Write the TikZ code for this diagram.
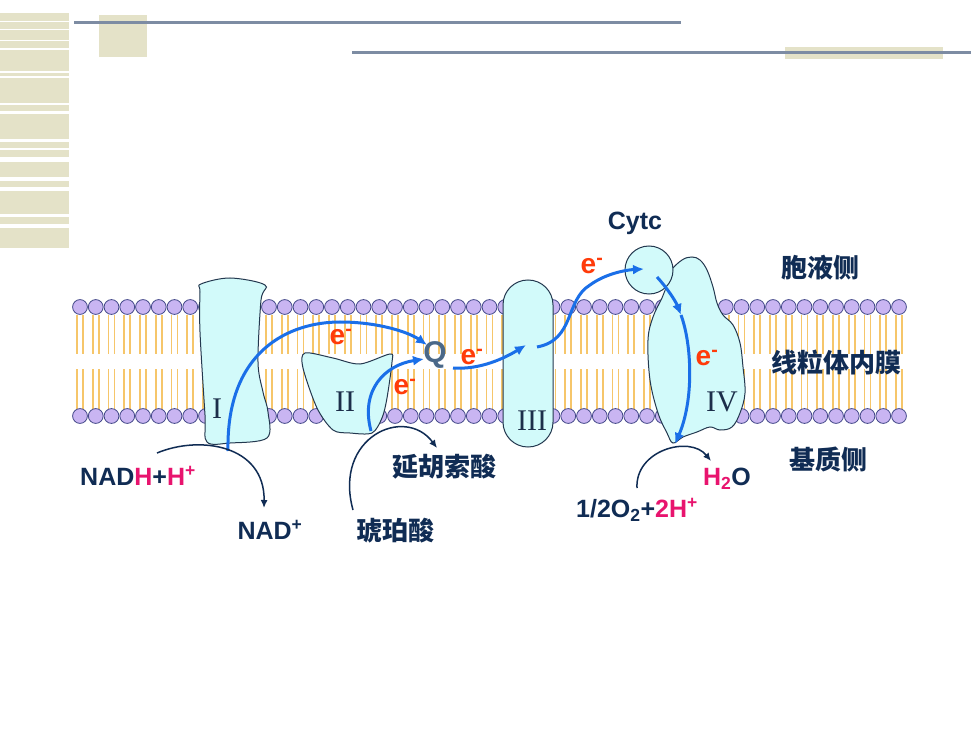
\documentclass[tikz,border=0pt]{standalone}
\usepackage{fontspec}
\setmainfont{Liberation Sans}
\newfontfamily\cjk{Noto Sans CJK SC}
\newfontfamily\romanfont{Liberation Serif}
\usetikzlibrary{arrows.meta}
\definecolor{navy}{HTML}{102C54}
\definecolor{pinkH}{HTML}{E8146E}
\definecolor{eorange}{HTML}{FF3B0A}
\definecolor{eblue}{HTML}{1A6FE8}
\definecolor{qcol}{HTML}{4A6888}
\definecolor{headfill}{HTML}{C9B5F2}
\definecolor{headdraw}{HTML}{454A8A}
\definecolor{tailcol}{HTML}{F6C66A}
\definecolor{protfill}{HTML}{D2FAFA}
\definecolor{protdraw}{HTML}{23384F}
\definecolor{beige}{HTML}{E4E2C8}
\definecolor{rulecol}{HTML}{7D8CA3}
\definecolor{numcol}{HTML}{1C2E4A}
\newcommand{\elec}{e\textsuperscript{-}}

\begin{document}
\begin{tikzpicture}[x=1pt,y=-1pt,
  tail/.style={draw=tailcol,line width=1.6pt},
  head/.style={draw=headdraw,fill=headfill,line width=0.8pt},
  prot/.style={draw=protdraw,fill=protfill,line width=1pt},
  eflow/.style={draw=eblue,line width=3pt,-{Latex[length=11pt,width=10pt]}},
  react/.style={draw=navy,line width=1.5pt,-{Latex[length=8pt,width=7pt]}},
  lbl/.style={font=\fontsize{25}{30}\selectfont\bfseries,text=navy,inner sep=0pt},
  zh/.style={font=\fontsize{26}{30}\selectfont\cjk\bfseries,text=navy,inner sep=0pt},
  elbl/.style={font=\fontsize{28}{30}\selectfont\bfseries,text=eorange,inner sep=0pt},
  num/.style={font=\fontsize{30}{32}\selectfont\romanfont,text=numcol,inner sep=0pt}]
                 \fill[white] (0,0) rectangle (980,735);
                 \useasboundingbox (0,0) rectangle (980,735);

                 % Slide decoration
                 \fill[beige] (0,13) rectangle (69,248);
                 \foreach \y/\w in {20.7/1.5,28.7/1.5,40/1.2,47.7/2.5,70.7/2,76/2,102.7/2.5,110.7/3,139.3/2.5,148.3/1.8,157.3/4.5,177.3/3.5,187.3/3.5,214/3.5,224/4}
                   \fill[white] (0,\y) rectangle (69,\y+\w);
                 \fill[beige] (99,15) rectangle (147,57);
                 \fill[beige] (785,47) rectangle (943,59);
                 \draw[rulecol,line width=3pt] (74,23) -- (681,23);
                 \draw[rulecol,line width=3pt] (352,53) -- (971,53);

                 % Lipid bilayer
                 \foreach \i in {0,...,52}{
                   \pgfmathsetmacro{\hx}{80+15.75*\i}
                   \draw[tail] (\hx-3,315) -- (\hx-3,354) (\hx+3,315) -- (\hx+3,354);
                   \draw[tail] (\hx-3,369) -- (\hx-3,409) (\hx+3,369) -- (\hx+3,409);
                   \draw[head] (\hx,307) circle (7.4pt) (\hx,416) circle (7.4pt);
                 }

                 % Complexes
                 \draw[prot] plot[smooth cycle,tension=0.55] coordinates {(201,284) (230,278) (265,285) (261,300) (258,362) (263,392) (268,412) (267,438) (230,443) (207,442) (205,415) (200,332) (200,292)};
                 \draw[prot] plot[smooth cycle,tension=0.5] coordinates {(305,353) (333,358) (360,364) (390,354) (392,362) (387,398) (382,418) (372,433) (350,433) (333,430) (317,408) (303,368)};
                 \draw[prot,rounded corners=24.9pt] (503,280) rectangle (553,447);
                 \draw[prot] plot[smooth cycle,tension=0.6] coordinates {(670,272) (682,260) (692,257) (700,260) (707,270) (713,287) (717,303) (723,315) (733,325) (740,343) (743,367) (745,393) (740,413) (732,427) (720,430) (710,427) (697,432) (683,437) (673,443) (667,433) (658,413) (650,380) (648,340) (653,317) (662,298) (666,288)};
                 \draw[prot] (649,270) circle (24pt);

                 \node[num] (cI) at (217,409) {I};
                 \node[num] (cII) at (345,402) {II};
                 \node[num] (cIII) at (532,421) {III};
                 \node[num] (cIV) at (722,402) {IV};

                 % Electron path
                 \node[font=\fontsize{30}{32}\selectfont\bfseries,text=qcol,inner sep=0pt] (Q) at (435,355) {Q};
                 \coordinate (Iout) at (228,451);
                 \coordinate (IIout) at (371,431);
                 \coordinate (Qin) at (427,345);
                 \coordinate (Qin2) at (424,359);
                 \coordinate (Qout) at (453,368);
                 \coordinate (IIIin) at (526,345);
                 \coordinate (IIIout) at (537,347);
                 \coordinate (cytcin) at (644,269);
                 \coordinate (cytcout) at (657,277);
                 \coordinate (IVmid) at (681,315);
                 \coordinate (IVout) at (675,444);

                 \draw[eflow] (Iout) .. controls (226,350) and (290,322) .. (340,322) .. controls (380,322) and (410,333) .. (Qin);
                 \draw[eflow] (IIout) .. controls (360,390) and (385,365) .. (Qin2);
                 \draw[eflow] (Qout) .. controls (480,370) and (505,358) .. (IIIin);
                 \draw[eflow] (IIIout) .. controls (575,340) and (565,300) .. (590,285) .. controls (605,274) and (625,270) .. (cytcin);
                 \draw[eflow] (cytcout) .. controls (668,289) and (676,302) .. (IVmid);
                 \draw[eflow] (IVmid) .. controls (692,345) and (694,400) .. (IVout);

                 \node[elbl] (e1) at (341,337) {\elec};
                 \node[elbl] (e2) at (405,387) {\elec};
                 \node[elbl] (e3) at (472,357) {\elec};
                 \node[elbl] (e4) at (592,266) {\elec};
                 \node[elbl] (e5) at (707,358) {\elec};

                 % Substrates and products
                 \node[lbl] (nadh) at (138,476) {NAD\textcolor{pinkH}{H}+\textcolor{pinkH}{H\textsuperscript{+}}};
                 \node[lbl] (nad) at (270,530) {NAD\textsuperscript{+}};
                 \node[zh] (fum) at (444,467) {延胡索酸};
                 \node[zh] (succ) at (395,531) {琥珀酸};
                 \node[lbl] (cytc) at (635,223) {Cytc};
                 \node[lbl] (water) at (727,479) {\textcolor{pinkH}{H\textsubscript{2}}O};
                 \node[lbl] (oxy) at (637,510) {1/2O\textsubscript{2}+\textcolor{pinkH}{2H\textsuperscript{+}}};

                 \coordinate (nadhin) at (157,453);
                 \coordinate (nadout) at (264,508);
                 \coordinate (succin) at (353,510);
                 \coordinate (fumout) at (437,448);
                 \coordinate (oxyin) at (637,488);
                 \coordinate (waterout) at (711,461);
                 \draw[react] (nadhin) .. controls (200,435) and (265,445) .. (nadout);
                 \draw[react] (succin) .. controls (333,437) and (405,405) .. (fumout);
                 \draw[react] (oxyin) .. controls (635,450) and (690,435) .. (waterout);

                 % Side labels
                 \node[zh] (cyto) at (820,268) {胞液侧};
                 \node[zh] (memb) at (836,363) {线粒体内膜};
                 \node[zh] (matrix) at (828,460) {基质侧};
                \end{tikzpicture}
\end{document}
